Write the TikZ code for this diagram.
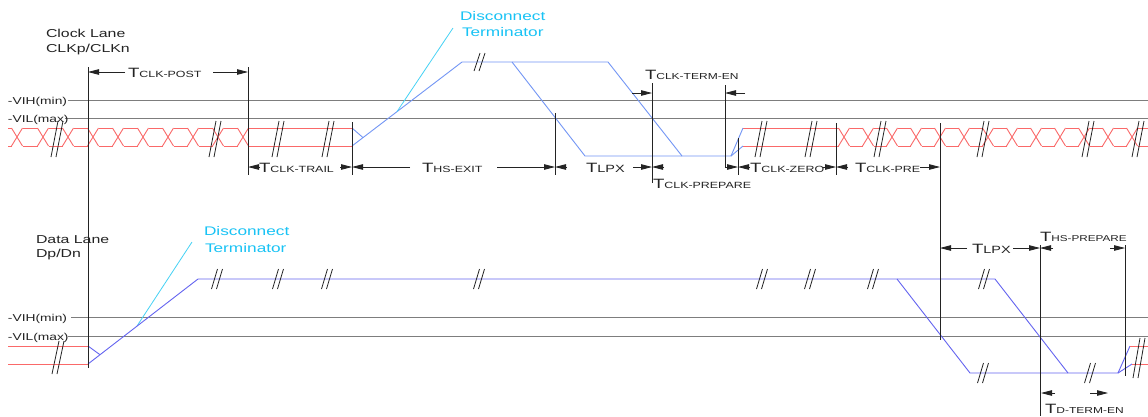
\documentclass[tikz,border=0pt]{standalone}
\usepackage{fontspec}
\setmainfont{Liberation Sans}
\usepackage{graphicx}
\usetikzlibrary{arrows.meta}
\definecolor{sigred}{RGB}{250,105,105}
\definecolor{clkblue}{RGB}{115,150,245}
\definecolor{datblue}{RGB}{100,100,240}
\definecolor{cyantext}{RGB}{25,195,245}
\definecolor{cyanline}{RGB}{70,210,245}
\definecolor{refgray}{RGB}{125,125,125}
\definecolor{inkblack}{RGB}{35,35,35}
\newcommand\hstr[1]{\scalebox{1.38}[1]{#1}}
\newcommand\Tsub[2][9]{\hstr{\fontsize{13.5}{13.5}\selectfont T\fontsize{#1}{#1}\selectfont #2}}
\newcommand\lbltext[2]{\hstr{\fontsize{#1}{#1}\selectfont #2}}
\begin{document}
\begin{tikzpicture}[x=1pt,y=-1pt,
  txt/.style={anchor=base west,inner sep=0pt,outer sep=0pt,text=inkblack},
  cyt/.style={anchor=base west,inner sep=0pt,outer sep=0pt,text=cyantext},
  level/.style={draw=refgray,line width=0.9pt},
  marker/.style={draw=inkblack,line width=0.8pt},
  dimarr/.style={draw=inkblack,line width=0.8pt,-{Triangle[length=11pt,width=5.5pt]}},
  hs/.style={draw=sigred,line width=0.9pt},
  cb/.style={draw=clkblue,line width=0.9pt,line join=round},
  db/.style={draw=datblue,line width=0.9pt,line join=round},
  brk/.style={draw=inkblack,line width=0.8pt},
  cyl/.style={draw=cyanline,line width=0.8pt}]

\fill[white] (0,0) rectangle (1148,416);
\useasboundingbox (0,0) rectangle (1148,416);

% ---------- threshold levels ----------
\draw[level] (68,100) -- (1148,100);
\draw[level] (65,118) -- (1148,118);
\draw[level] (71,317) -- (1148,317);
\draw[level] (68,336) -- (1148,336);

% ---------- clock lane HS (red) ----------
\draw[hs] (8,128)--(352,128) (8,146)--(352,146);
\foreach \cx in {17,43,68,93,118,143,168,193,218,243} {
  \fill[white] (\cx-5.5,126.5) rectangle (\cx+5.5,147.5);
  \draw[hs] (\cx-5.5,128)--(\cx+5.5,146) (\cx-5.5,146)--(\cx+5.5,128);
}
\draw[hs] (743,128)--(1148,128) (743,146)--(1148,146);
\foreach \cx in {844,868,...,1132} {
  \fill[white] (\cx-5.5,126.5) rectangle (\cx+5.5,147.5);
  \draw[hs] (\cx-5.5,128)--(\cx+5.5,146) (\cx-5.5,146)--(\cx+5.5,128);
}

% ---------- clock lane LP (blue) ----------
\draw[cb] (352,146)--(462,62)--(608,62)--(682,156)--(731,156)--(743,128);
\draw[cb] (352,128)--(363,137.6);
\draw[cb] (512,62)--(585,156)--(682,156);
\draw[cb] (731,156)--(743,146);

% ---------- disconnect terminator pointers ----------
\draw[cyl] (453,28)--(397,111.6);
\draw[cyl] (192,242)--(137,326);

% ---------- data lane ----------
\draw[hs] (8,346)--(88,346) (8,364)--(88,364);
\draw[db] (88,364)--(198,279)--(995,279);
\draw[db] (88,346)--(100,354.7);
\draw[db] (897,279)--(970,373)--(1118,373)--(1130,346);
\draw[db] (995,279)--(1068,373);
\draw[db] (1118,373)--(1132,364);
\draw[hs] (1130,346)--(1148,346) (1132,364)--(1148,364);

% ---------- break marks ----------
\foreach \bx in {57,215,278,328,761,811,880,983,1088,1138}
  \draw[brk] (\bx-6,157)--(\bx+1,121) (\bx-1,157)--(\bx+6,121);
\draw[brk] (474,71)--(480,53) (479,71)--(485,53);
\foreach \bx in {217,278,327,479,762,810,873,984}
  \draw[brk] (\bx-5.5,289)--(\bx+0.5,269) (\bx-0.5,289)--(\bx+5.5,269);
\foreach \bx in {983,1090}
  \draw[brk] (\bx-5.5,383)--(\bx+0.5,363) (\bx-0.5,383)--(\bx+5.5,363);
\draw[brk] (52,374)--(59,341) (57,374)--(64,341);
\draw[brk] (1133,378)--(1140,338) (1138,378)--(1145,338);

% ---------- timing markers ----------
\draw[marker] (88,67)--(88,368);
\draw[marker] (248,67)--(248,175);
\draw[marker] (352,122)--(352,175);
\draw[marker] (555,113)--(555,175);
\draw[marker] (652,83)--(652,183);
\draw[marker] (725,85)--(725,168);
\draw[marker] (738,138)--(738,175);
\draw[marker] (836,123)--(836,175);
\draw[marker] (940,123)--(940,340);
\draw[marker] (1040,245)--(1040,416);
\draw[marker] (1125,245)--(1125,376);

% ---------- dimension arrows ----------
\draw[dimarr] (125,72)--(88,72);
\draw[dimarr] (213,72)--(248,72);
\draw[dimarr] (632,93)--(652,93);
\draw[dimarr] (745,93)--(725,93);
\draw[dimarr] (260,167)--(248,167);
\draw[dimarr] (340,167)--(352,167);
\draw[dimarr] (410,167)--(352,167);
\draw[dimarr] (497,167)--(555,167);
\draw[dimarr] (567,167)--(555,167);
\draw[dimarr] (633,167)--(652,167);
\draw[dimarr] (664,167)--(652,167);
\draw[dimarr] (726,167)--(738,167);
\draw[dimarr] (750,167)--(738,167);
\draw[dimarr] (823,167)--(836,167);
\draw[dimarr] (848,167)--(836,167);
\draw[dimarr] (920,167)--(940,167);
\draw[dimarr] (967,248)--(940,248);
\draw[dimarr] (1013,248)--(1040,248);
\draw[dimarr] (1053,248)--(1040,248);
\draw[dimarr] (1110,248)--(1125,248);
\draw[dimarr] (1055,393)--(1041,393);
\draw[dimarr] (1090,393)--(1108,393);

% ---------- labels ----------
\node[txt] (clklane) at (46,37) {\lbltext{11.5}{Clock Lane}};
\node[txt] (clkpn) at (46,52) {\lbltext{11.5}{CLKp/CLKn}};
\node[txt] (datlane) at (36,243) {\lbltext{11.5}{Data Lane}};
\node[txt] (dpdn) at (36,257) {\lbltext{11.5}{Dp/Dn}};
\node[txt] (vihc) at (8,104) {\lbltext{10}{-VIH(min)}};
\node[txt] (vilc) at (8,122) {\lbltext{10}{-VIL(max)}};
\node[txt] (vihd) at (8,321) {\lbltext{10}{-VIH(min)}};
\node[txt] (vild) at (8,340) {\lbltext{10}{-VIL(max)}};
\node[cyt] (disc1) at (460,20) {\lbltext{12.5}{Disconnect}};
\node[cyt] (term1) at (462,36) {\lbltext{12.5}{Terminator}};
\node[cyt] (disc2) at (204,235) {\lbltext{12.5}{Disconnect}};
\node[cyt] (term2) at (205,252) {\lbltext{12.5}{Terminator}};

\node[txt] (tpost) at (128,77) {\Tsub{CLK-POST}};
\node[txt] (ttrail) at (259,172) {\Tsub{CLK-TRAIL}};
\node[txt] (thsexit) at (422,172) {\Tsub{HS-EXIT}};
\node[txt] (tlpx1) at (586,172) {\Tsub[10.5]{LPX}};
\node[txt] (tprep) at (653,188) {\Tsub{CLK-PREPARE}};
\node[txt] (ttermen) at (645,79) {\Tsub[8.7]{CLK-TERM-EN}};
\node[txt] (tzero) at (750,172) {\Tsub{CLK-ZERO}};
\node[txt] (tpre) at (855,172) {\Tsub{CLK-PRE}};
\node[txt] (tlpx2) at (972,253) {\Tsub[10.5]{LPX}};
\node[txt] (thsprep) at (1040,241) {\Tsub[8.5]{HS-PREPARE}};
\node[txt] (tdterm) at (1045,413) {\Tsub[8.7]{D-TERM-EN}};
\end{tikzpicture}
\end{document}
